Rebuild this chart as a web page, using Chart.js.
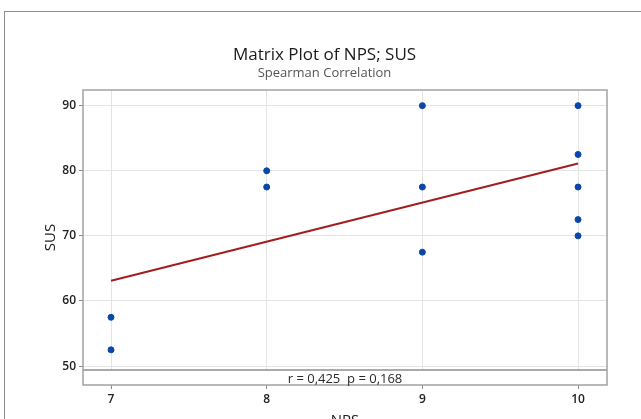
<!DOCTYPE html>
<html>
<head>
<meta charset="utf-8">
<script src="https://cdn.jsdelivr.net/npm/chart.js@4"></script>
<style>
    html, body { margin: 0; padding: 0; background: #fff; overflow: hidden; }
    #frame {
        position: absolute; left: 4px; top: 11px; width: 700px; height: 500px;
        border: 1px solid #8c8c8c;
    }
    #chart { position: absolute; left: 0; top: 0; }
</style>
</head>
<body>
<div id="frame"></div>
<canvas id="chart" width="641" height="440"></canvas>
<script>
// values
const npsValues = [7, 7, 8, 8, 9, 9, 9, 10, 10, 10, 10, 10];
const susValues = [57.5, 52.5, 80, 77.5, 90, 77.5, 67.5, 90, 82.5, 77.5, 72.5, 70];
const fitX = [7, 10];
const fitY = [63.1, 81.1];
const xTicks = [7, 8, 9, 10];
const yTicks = [50, 60, 70, 80, 90];
const chartTitle = 'Matrix Plot of NPS; SUS';
const chartSubtitle = 'Spearman Correlation';
const statText = 'r = 0,425  p = 0,168';

const fontFamily = '"Open Sans", "Noto Sans", sans-serif';

// box round the plot, plus the stats strip at its bottom
const frameBox = {
    id: 'frameBox',
    afterDraw(chart) {
        const { ctx, chartArea: a } = chart;
        const bandTop = a.bottom - 15;
        ctx.save();
        ctx.fillStyle = '#fff';
        ctx.fillRect(a.left, bandTop, a.right - a.left, a.bottom - bandTop);
        ctx.strokeStyle = '#8e8e8e';
        ctx.lineWidth = 1.4;
        ctx.beginPath();
        ctx.moveTo(a.left, bandTop);
        ctx.lineTo(a.right, bandTop);
        ctx.stroke();
        ctx.strokeStyle = '#a2a2a2';
        ctx.lineWidth = 1.5;
        ctx.strokeRect(a.left, a.top, a.right - a.left, a.bottom - a.top);
        ctx.fillStyle = '#2a2a2a';
        ctx.font = '13px ' + fontFamily;
        ctx.textAlign = 'center';
        ctx.textBaseline = 'middle';
        ctx.fillText(statText, (a.left + a.right) / 2, bandTop + 9.5);
        ctx.restore();
    }
};

const points = npsValues.map((x, i) => ({ x: x, y: susValues[i] }));
const fitLine = fitX.map((x, i) => ({ x: x, y: fitY[i] }));

new Chart(document.querySelector('#chart'), {
    type: 'scatter',
    data: {
        datasets: [{
            label: 'SUS',
            data: points,
            backgroundColor: '#0a47a8',
            borderColor: '#0a47a8',
            pointRadius: 3,
            order: 1
        }, {
            type: 'line',
            label: 'Fit',
            data: fitLine,
            borderColor: '#a11e1e',
            borderWidth: 2,
            pointRadius: 0,
            fill: false,
            order: 2
        }]
    },
    options: {
        responsive: false,
        animation: false,
        devicePixelRatio: 1,
        layout: { padding: { left: 42, right: 34, top: 0, bottom: 0 } },
        plugins: {
            legend: { display: false },
            tooltip: { enabled: false },
            title: {
                display: true,
                text: chartTitle,
                color: '#1a1a1a',
                font: { family: fontFamily, size: 17, weight: 'normal' },
                padding: { top: 45, bottom: 0 }
            },
            subtitle: {
                display: true,
                text: chartSubtitle,
                color: '#555',
                font: { family: fontFamily, size: 13, weight: 'normal' },
                padding: { top: 0, bottom: 9 }
            }
        },
        scales: {
            x: {
                type: 'linear',
                min: 6.82,
                max: 10.186,
                afterBuildTicks: (scale) => { scale.ticks = xTicks.map(v => ({ value: v })); },
                afterFit: (scale) => { scale.height = 55; },
                grid: { color: '#e4e4e4', tickColor: '#8a8a8a', tickLength: 4 },
                border: { display: false },
                ticks: {
                    color: '#222',
                    padding: 3,
                    font: { family: fontFamily, size: 12, weight: '600' }
                },
                title: {
                    display: true,
                    text: 'NPS',
                    color: '#222',
                    font: { family: fontFamily, size: 15 },
                    padding: { top: 0, bottom: 10 }
                }
            },
            y: {
                type: 'linear',
                min: 47.1,
                max: 92.4,
                afterBuildTicks: (scale) => { scale.ticks = yTicks.map(v => ({ value: v })); },
                afterFit: (scale) => { scale.width = 41; },
                grid: { color: '#e4e4e4', tickColor: '#8a8a8a', tickLength: 4 },
                border: { display: false },
                ticks: {
                    color: '#222',
                    padding: 3,
                    font: { family: fontFamily, size: 12, weight: '600' }
                },
                title: {
                    display: true,
                    text: 'SUS',
                    color: '#222',
                    font: { family: fontFamily, size: 15 },
                    padding: { top: 0, bottom: 0 }
                }
            }
        }
    },
    plugins: [frameBox]
});
</script>
</body>
</html>
